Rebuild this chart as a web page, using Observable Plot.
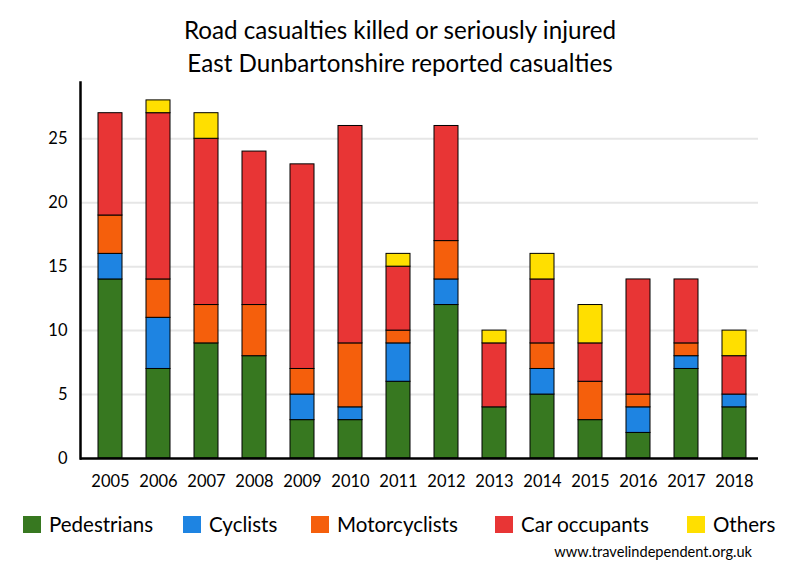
<!DOCTYPE html>
<html>
<head>
<meta charset="utf-8">
<script src="https://cdn.jsdelivr.net/npm/d3@7"></script>
<script src="https://cdn.jsdelivr.net/npm/@observablehq/plot@0.6"></script>
<style>
  body { margin: 0; background: #fff; font-family: Lato, "Open Sans", sans-serif; }
  #wrap { position: relative; width: 800px; height: 580px; overflow: hidden; }
  .title { position: absolute; left: 0; width: 800px; text-align: center; font-size: 24.2px; color: #000; white-space: nowrap; line-height: 28px; }
  #chart { position: absolute; left: 0; top: 0; }
  .leg { position: absolute; top: 512px; height: 24px; display: flex; align-items: center; font-size: 20.5px; white-space: nowrap; }
  .sw { width: 18px; height: 17px; margin-right: 8px; }
  #caption { position: absolute; right: 48px; top: 543px; font-size: 14.6px; color: #000; }
</style>
</head>
<body>
<div id="wrap">
  <div class="title" style="top:16px">Road casualties killed or seriously injured</div>
  <div class="title" style="top:49px">East Dunbartonshire reported casualties</div>
  <div id="chart"></div>
  <div id="legend"></div>
  <div id="caption">www.travelindependent.org.uk</div>
</div>
<script>
const years = ["2005","2006","2007","2008","2009","2010","2011","2012","2013","2014","2015","2016","2017","2018"];
const categories = ["Pedestrians","Cyclists","Motorcyclists","Car occupants","Others"];
const pedestrians   = [14, 7, 9, 8, 3, 3, 6, 12, 4, 5, 3, 2, 7, 4];
const cyclists      = [ 2, 4, 0, 0, 2, 1, 3,  2, 0, 2, 0, 2, 1, 1];
const motorcyclists = [ 3, 3, 3, 4, 2, 5, 1,  3, 0, 2, 3, 1, 1, 0];
const carOccupants  = [ 8,13,13,12,16,17, 5,  9, 5, 5, 3, 9, 5, 3];
const others        = [ 0, 1, 2, 0, 0, 0, 1,  0, 1, 2, 3, 0, 0, 2];
const yTicks = [0, 5, 10, 15, 20, 25];
const colors = ["#377820", "#1e84e2", "#f55f0c", "#e83535", "#ffdf00"];

const series = [pedestrians, cyclists, motorcyclists, carOccupants, others];
const data = [];
years.forEach((yr, i) => {
  categories.forEach((c, k) => {
    if (series[k][i] > 0) data.push({year: yr, type: c, value: series[k][i]});
  });
});

const chart = Plot.plot({
  width: 800,
  height: 500,
  marginTop: 82,
  marginBottom: 42,
  marginLeft: 80,
  marginRight: 42,
  style: { fontFamily: "Lato, 'Open Sans', sans-serif", fontSize: "16px", color: "#000", background: "transparent" },
  x: { domain: years, range: [85, 758], paddingInner: 0.5, paddingOuter: 0.253, label: null },
  y: { domain: [0, 29.4], label: null },
  color: { domain: categories, range: colors },
  marks: [
    Plot.gridY(yTicks.filter(d => d > 0), { stroke: "#e6e6e6", strokeOpacity: 1, strokeWidth: 2 }),
    Plot.barY(data, { x: "year", y: "value", fill: "type", z: "type", stroke: "black", strokeWidth: 1, order: categories }),
    Plot.axisY(yTicks, { tickSize: 0, tickPadding: 13, fontSize: 16.5, label: null }),
    Plot.axisX({ tickSize: 0, tickPadding: 17, fontSize: 16.5, label: null }),
    Plot.frame({ anchor: "left", stroke: "black", strokeWidth: 2.5 }),
    Plot.ruleY([0], { stroke: "black", strokeWidth: 2.5 })
  ]
});
document.getElementById("chart").appendChild(chart);

const legLefts = [23, 183, 311, 495, 687];
const legend = document.getElementById("legend");
categories.forEach((c, k) => {
  const item = document.createElement("div");
  item.className = "leg";
  item.style.left = legLefts[k] + "px";
  const sw = document.createElement("div");
  sw.className = "sw";
  sw.style.background = colors[k];
  const t = document.createElement("span");
  t.textContent = c;
  item.appendChild(sw);
  item.appendChild(t);
  legend.appendChild(item);
});
</script>
</body>
</html>
